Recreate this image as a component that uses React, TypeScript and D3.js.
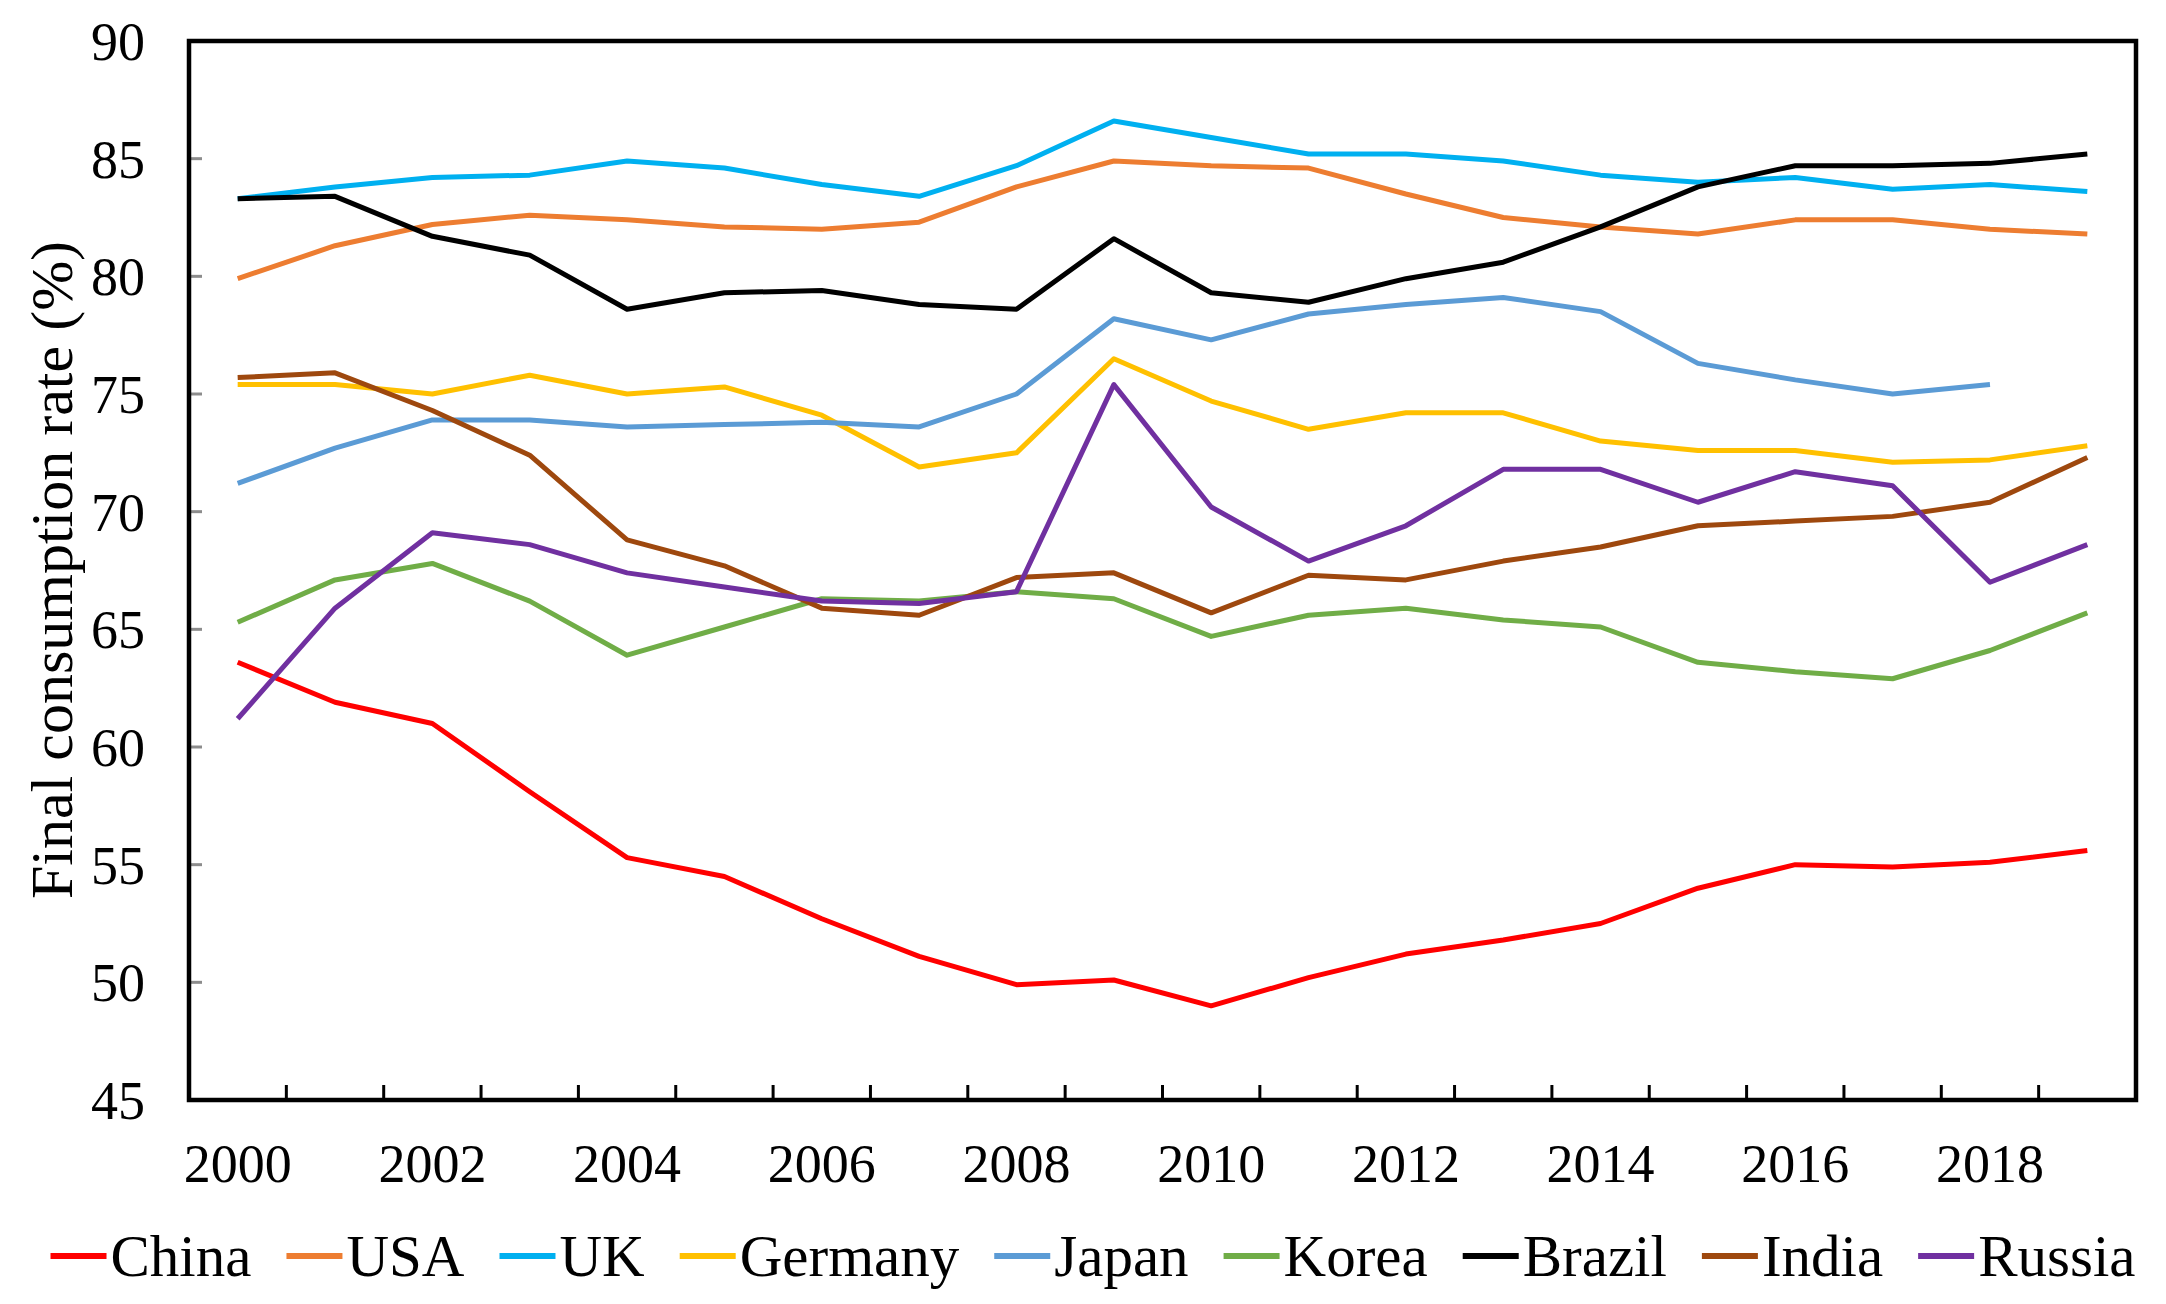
import React, { useEffect, useRef } from 'react';
import * as d3 from 'd3';

const years = d3.range(2000, 2020).map(String);

const seriesNames = ['China', 'USA', 'UK', 'Germany', 'Japan', 'Korea', 'Brazil', 'India', 'Russia'];
const seriesColors = ['#FF0000', '#ED7D31', '#00B0F0', '#FFC000', '#5B9BD5', '#70AD47', '#000000', '#9E480E', '#7030A0'];

const china = [63.6, 61.9, 61.0, 58.1, 55.3, 54.5, 52.7, 51.1, 49.9, 50.1, 49.0, 50.2, 51.2, 51.8, 52.5, 54.0, 55.0, 54.9, 55.1, 55.6];
const usa = [79.9, 81.3, 82.2, 82.6, 82.4, 82.1, 82.0, 82.3, 83.8, 84.9, 84.7, 84.6, 83.5, 82.5, 82.1, 81.8, 82.4, 82.4, 82.0, 81.8];
const uk = [83.3, 83.8, 84.2, 84.3, 84.9, 84.6, 83.9, 83.4, 84.7, 86.6, 85.9, 85.2, 85.2, 84.9, 84.3, 84.0, 84.2, 83.7, 83.9, 83.6];
const germany = [75.4, 75.4, 75.0, 75.8, 75.0, 75.3, 74.1, 71.9, 72.5, 76.5, 74.7, 73.5, 74.2, 74.2, 73.0, 72.6, 72.6, 72.1, 72.2, 72.8];
const japan: (number | null)[] = [71.2, 72.7, 73.9, 73.9, 73.6, 73.7, 73.8, 73.6, 75.0, 78.2, 77.3, 78.4, 78.8, 79.1, 78.5, 76.3, 75.6, 75.0, 75.4, null];
const korea = [65.3, 67.1, 67.8, 66.2, 63.9, 65.1, 66.3, 66.2, 66.6, 66.3, 64.7, 65.6, 65.9, 65.4, 65.1, 63.6, 63.2, 62.9, 64.1, 65.7];
const brazil = [83.3, 83.4, 81.7, 80.9, 78.6, 79.3, 79.4, 78.8, 78.6, 81.6, 79.3, 78.9, 79.9, 80.6, 82.1, 83.8, 84.7, 84.7, 84.8, 85.2];
const india = [75.7, 75.9, 74.3, 72.4, 68.8, 67.7, 65.9, 65.6, 67.2, 67.4, 65.7, 67.3, 67.1, 67.9, 68.5, 69.4, 69.6, 69.8, 70.4, 72.3];
const russia = [61.2, 65.9, 69.1, 68.6, 67.4, 66.8, 66.2, 66.1, 66.6, 75.4, 70.2, 67.9, 69.4, 71.8, 71.8, 70.4, 71.7, 71.1, 67.0, 68.6];

const seriesValues: (number | null)[][] = [china, usa, uk, germany, japan, korea, brazil, india, russia];

const yTicks = [45, 50, 55, 60, 65, 70, 75, 80, 85, 90];
const xTickLabels = years.filter((_, i) => i % 2 === 0);

const FONT = '"Liberation Serif", "Times New Roman", serif';

const App: React.FC = () => {
  const svgRef = useRef<SVGSVGElement>(null);

  useEffect(() => {
    document.body.style.margin = '0';
    if (!svgRef.current) return;

    const W = 2166;
    const H = 1304;
    const left = 189, right = 2136, top = 41, bottom = 1100;

    const svg = d3.select(svgRef.current);
    svg.selectAll('*').remove();
    svg.attr('width', W).attr('height', H);
    svg.append('rect').attr('width', W).attr('height', H).attr('fill', '#fff');

    const x = d3.scaleBand<string>().domain(years).range([left, right]);
    const y = d3.scaleLinear().domain([45, 90]).range([bottom, top]);

    // y ticks (short gray, inside)
    svg.append('g')
      .selectAll('line')
      .data(yTicks.filter(t => t > 45 && t < 90))
      .join('line')
      .attr('x1', left).attr('x2', left + 13)
      .attr('y1', d => y(d)).attr('y2', d => y(d))
      .attr('stroke', '#8c8c8c').attr('stroke-width', 3);

    // y tick labels
    svg.append('g')
      .selectAll('text')
      .data(yTicks)
      .join('text')
      .attr('x', 145)
      .attr('y', d => y(d))
      .attr('dy', '0.35em')
      .attr('text-anchor', 'end')
      .attr('font-family', FONT)
      .attr('font-size', 54)
      .attr('fill', '#000')
      .text(d => d);

    // x ticks between categories
    svg.append('g')
      .selectAll('line')
      .data(years.slice(1))
      .join('line')
      .attr('x1', d => x(d)!).attr('x2', d => x(d)!)
      .attr('y1', bottom).attr('y2', bottom - 15)
      .attr('stroke', '#000').attr('stroke-width', 3);

    // x labels
    svg.append('g')
      .selectAll('text')
      .data(xTickLabels)
      .join('text')
      .attr('x', d => x(d)! + x.bandwidth() / 2)
      .attr('y', 1182)
      .attr('text-anchor', 'middle')
      .attr('font-family', FONT)
      .attr('font-size', 54)
      .attr('fill', '#000')
      .text(d => d);

    // lines
    const line = d3.line<number | null>()
      .defined(d => d !== null)
      .x((_, i) => x(years[i])! + x.bandwidth() / 2)
      .y(d => y(d as number));

    seriesValues.forEach((vals, i) => {
      svg.append('path')
        .datum(vals)
        .attr('fill', 'none')
        .attr('stroke', seriesColors[i])
        .attr('stroke-width', 5)
        .attr('stroke-linejoin', 'round')
        .attr('d', line);
    });

    // frame
    svg.append('rect')
      .attr('x', left).attr('y', top)
      .attr('width', right - left).attr('height', bottom - top)
      .attr('fill', 'none')
      .attr('stroke', '#000')
      .attr('stroke-width', 4.5);

    // y title
    svg.append('text')
      .attr('transform', `translate(72,570) rotate(-90)`)
      .attr('text-anchor', 'middle')
      .attr('font-family', FONT)
      .attr('font-size', 60)
      .attr('fill', '#000')
      .text('Final consumption rate (%)');

    // legend
    const legend = svg.append('g');
    let cx = 0;
    seriesNames.forEach((name, i) => {
      if (i > 0) cx += 35;
      legend.append('line')
        .attr('x1', cx).attr('x2', cx + 56)
        .attr('y1', 1256).attr('y2', 1256)
        .attr('stroke', seriesColors[i])
        .attr('stroke-width', 6);
      cx += 60;
      const t = legend.append('text')
        .attr('x', cx)
        .attr('y', 1276)
        .attr('font-family', FONT)
        .attr('font-size', 59)
        .attr('fill', '#000')
        .text(name);
      cx += (t.node() as SVGTextElement).getComputedTextLength();
    });
    legend.attr('transform', `translate(${1093 - cx / 2},0)`);
  }, []);

  return <svg ref={svgRef} style={{ display: 'block' }}></svg>;
};

export default App;
